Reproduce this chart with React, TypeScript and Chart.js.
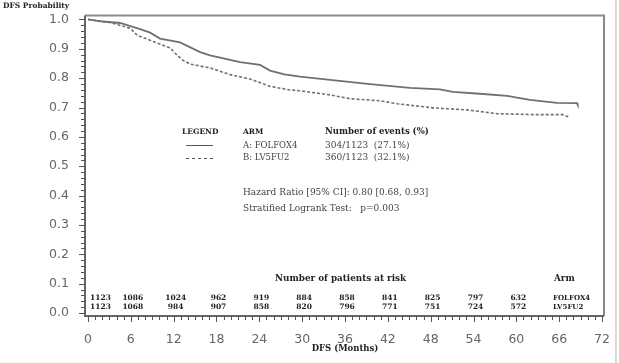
import React, { useEffect, useRef } from "react";
import { Chart, registerables } from "chart.js";

Chart.register(...registerables);

// Kaplan-Meier curves (months, DFS probability)
const folfoxMonths = [0, 2, 4.5, 7.3, 8.7, 10.1, 12.9, 15.7, 17.1, 21.3, 24.1, 25.5, 27.5, 29.7, 33.9, 39.5, 45.1, 49.3, 51.1, 54.9, 58.7, 61.9, 65.7, 68.5, 68.6];
const folfoxSurv = [1.0, 0.993, 0.988, 0.967, 0.955, 0.935, 0.922, 0.889, 0.878, 0.855, 0.845, 0.826, 0.813, 0.805, 0.794, 0.78, 0.767, 0.762, 0.753, 0.747, 0.74, 0.726, 0.716, 0.715, 0.709];

const lv5fu2Months = [0, 3.1, 5.9, 6.9, 8.7, 11.5, 12.2, 13.3, 14.3, 17.1, 19.9, 22.7, 25.5, 28.3, 29.7, 33.9, 36.7, 40.9, 43.3, 48.3, 50.3, 53.1, 57.3, 62.3, 66.5, 67.5];
const lv5fu2Surv = [1.0, 0.99, 0.97, 0.946, 0.929, 0.903, 0.885, 0.861, 0.848, 0.835, 0.812, 0.797, 0.772, 0.76, 0.757, 0.743, 0.73, 0.723, 0.713, 0.699, 0.696, 0.692, 0.679, 0.676, 0.676, 0.666];

// Axis ticks
const xTicks = [0, 6, 12, 18, 24, 30, 36, 42, 48, 54, 60, 66, 72];
const yTicks = [0, 0.1, 0.2, 0.3, 0.4, 0.5, 0.6, 0.7, 0.8, 0.9, 1.0];

// Number at risk table
const riskMonths = [0, 6, 12, 18, 24, 30, 36, 42, 48, 54, 60];
const riskFolfox = [1123, 1086, 1024, 962, 919, 884, 858, 841, 825, 797, 632];
const riskLv5fu2 = [1123, 1068, 984, 907, 858, 820, 796, 771, 751, 724, 572];
const armNames = ["FOLFOX4", "LV5FU2"];
const armLabels = ["A: FOLFOX4", "B: LV5FU2"];
const eventLabels = ["304/1123  (27.1%)", "360/1123  (32.1%)"];

const SERIF = '"DejaVu Serif", "Liberation Serif", serif';
const SANS = '"DejaVu Sans", sans-serif';

const annotPlugin = {
  id: "annot",
  afterDraw(chart: any) {
    const ctx: CanvasRenderingContext2D = chart.ctx;
    const xs = chart.scales.x;
    const ys = chart.scales.y;
    const { left, right, top, bottom } = chart.chartArea;
    ctx.save();
    ctx.setLineDash([]);

    // frame top/right
    ctx.strokeStyle = "#8a8a8a";
    ctx.lineWidth = 2;
    ctx.beginPath();
    ctx.moveTo(left, top);
    ctx.lineTo(right, top);
    ctx.lineTo(right, bottom);
    ctx.stroke();

    // axes
    ctx.strokeStyle = "#666";
    ctx.lineWidth = 2;
    ctx.beginPath();
    ctx.moveTo(left, top);
    ctx.lineTo(left, bottom);
    ctx.lineTo(right, bottom);
    ctx.stroke();

    // ticks
    ctx.lineWidth = 1;
    ctx.strokeStyle = "#555";
    for (let i = 0; i <= 50; i++) {
      const v = i * 0.02;
      const py = Math.round(ys.getPixelForValue(v)) + 0.5;
      const len = i % 5 === 0 ? 6 : 4;
      ctx.beginPath();
      ctx.moveTo(left - len, py);
      ctx.lineTo(left, py);
      ctx.stroke();
    }
    for (let m = 0; m <= 72; m++) {
      const px = Math.round(xs.getPixelForValue(m)) + 0.5;
      const len = m % 6 === 0 ? 6 : 4;
      ctx.beginPath();
      ctx.moveTo(px, bottom);
      ctx.lineTo(px, bottom + len);
      ctx.stroke();
    }

    // y title
    ctx.fillStyle = "#222";
    ctx.font = `bold 7.5px ${SERIF}`;
    ctx.textBaseline = "middle";
    ctx.textAlign = "left";
    ctx.fillText("DFS Probability", 3, 6);

    // x title
    ctx.textAlign = "center";
    ctx.font = `bold 8.5px ${SERIF}`;
    ctx.fillText("DFS (Months)", 345, 349);

    // legend block
    ctx.textAlign = "left";
    ctx.font = `bold 7.5px ${SERIF}`;
    ctx.fillText("LEGEND", 182, 132);
    ctx.fillText("ARM", 243, 132);
    ctx.font = `bold 8.5px ${SERIF}`;
    ctx.fillText("Number of events (%)", 325, 132);

    ctx.strokeStyle = "#555";
    ctx.lineWidth = 1;
    ctx.beginPath();
    ctx.moveTo(186, 145.5);
    ctx.lineTo(213, 145.5);
    ctx.stroke();
    ctx.setLineDash([3, 3]);
    ctx.beginPath();
    ctx.moveTo(186, 158.5);
    ctx.lineTo(213, 158.5);
    ctx.stroke();
    ctx.setLineDash([]);

    ctx.fillStyle = "#444";
    ctx.font = `8.5px ${SERIF}`;
    ctx.fillText(armLabels[0], 243, 146);
    ctx.fillText(armLabels[1], 243, 158);
    ctx.font = `9px ${SERIF}`;
    ctx.fillText(eventLabels[0], 325, 146);
    ctx.fillText(eventLabels[1], 325, 158);

    ctx.fillText("Hazard Ratio [95% CI]: 0.80 [0.68, 0.93]", 243, 193);
    ctx.fillText("Stratified Logrank Test:   p=0.003", 243, 209);

    // risk table
    ctx.fillStyle = "#222";
    ctx.font = `bold 8.8px ${SERIF}`;
    ctx.fillText("Number of patients at risk", 275, 279);
    ctx.fillText("Arm", 554, 279);
    ctx.font = `bold 7px ${SERIF}`;
    ctx.fillText(armNames[0], 553, 298);
    ctx.fillText(armNames[1], 553, 307);

    ctx.font = `bold 7.5px ${SERIF}`;
    ctx.textAlign = "center";
    riskMonths.forEach((m, i) => {
      let cx = xs.getPixelForValue(m) + 2;
      const w = ctx.measureText(String(riskFolfox[i])).width;
      if (cx - w / 2 < left + 5) cx = left + 5 + w / 2;
      ctx.fillText(String(riskFolfox[i]), cx, 298);
      ctx.fillText(String(riskLv5fu2[i]), cx, 307);
    });

    // outer page edge
    ctx.strokeStyle = "#d8d8d8";
    ctx.lineWidth = 2;
    ctx.beginPath();
    ctx.moveTo(616, 0);
    ctx.lineTo(616, 363);
    ctx.stroke();

    ctx.restore();
  },
};

export default function App() {
  const ref = useRef<HTMLCanvasElement | null>(null);

  useEffect(() => {
    if (!ref.current) return;
    const chart = new Chart(ref.current, {
      type: "line",
      data: {
        datasets: [
          {
            label: "A: FOLFOX4",
            data: folfoxMonths.map((m, i) => ({ x: m, y: folfoxSurv[i] })),
            borderColor: "#707070",
            borderWidth: 1.8,
            pointRadius: 0,
            tension: 0,
            fill: false,
          },
          {
            label: "B: LV5FU2",
            data: lv5fu2Months.map((m, i) => ({ x: m, y: lv5fu2Surv[i] })),
            borderColor: "#707070",
            borderWidth: 1.6,
            borderDash: [3, 2],
            pointRadius: 0,
            tension: 0,
            fill: false,
          },
        ],
      },
      options: {
        animation: false,
        responsive: true,
        maintainAspectRatio: false,
        layout: { padding: { top: 13, right: 15, left: 0, bottom: 0 } },
        plugins: {
          legend: { display: false },
          tooltip: { enabled: false },
        },
        scales: {
          x: {
            type: "linear",
            min: -0.42,
            max: 72.28,
            grid: { display: false },
            border: { display: false },
            afterBuildTicks: (s: any) => {
              s.ticks = xTicks.map((v) => ({ value: v }));
            },
            afterFit: (s: any) => {
              s.height = 47;
            },
            ticks: {
              autoSkip: false,
              maxRotation: 0,
              padding: 8,
              color: "#666",
              font: { family: SANS, size: 12.5 },
              callback: (v: any) => String(v),
            },
          },
          y: {
            type: "linear",
            min: -0.0101,
            max: 1.0135,
            grid: { display: false },
            border: { display: false },
            afterBuildTicks: (s: any) => {
              s.ticks = yTicks.map((v) => ({ value: v }));
            },
            afterFit: (s: any) => {
              s.width = 85;
            },
            ticks: {
              autoSkip: false,
              padding: 8,
              color: "#666",
              font: { family: SANS, size: 12.5 },
              callback: (v: any) => Number(v).toFixed(1),
            },
          },
        },
      },
      plugins: [annotPlugin],
    });
    return () => chart.destroy();
  }, []);

  return (
    <div style={{ position: "absolute", left: 0, top: 0, width: 619, height: 363, background: "#fff" }}>
      <canvas ref={ref} />
    </div>
  );
}
